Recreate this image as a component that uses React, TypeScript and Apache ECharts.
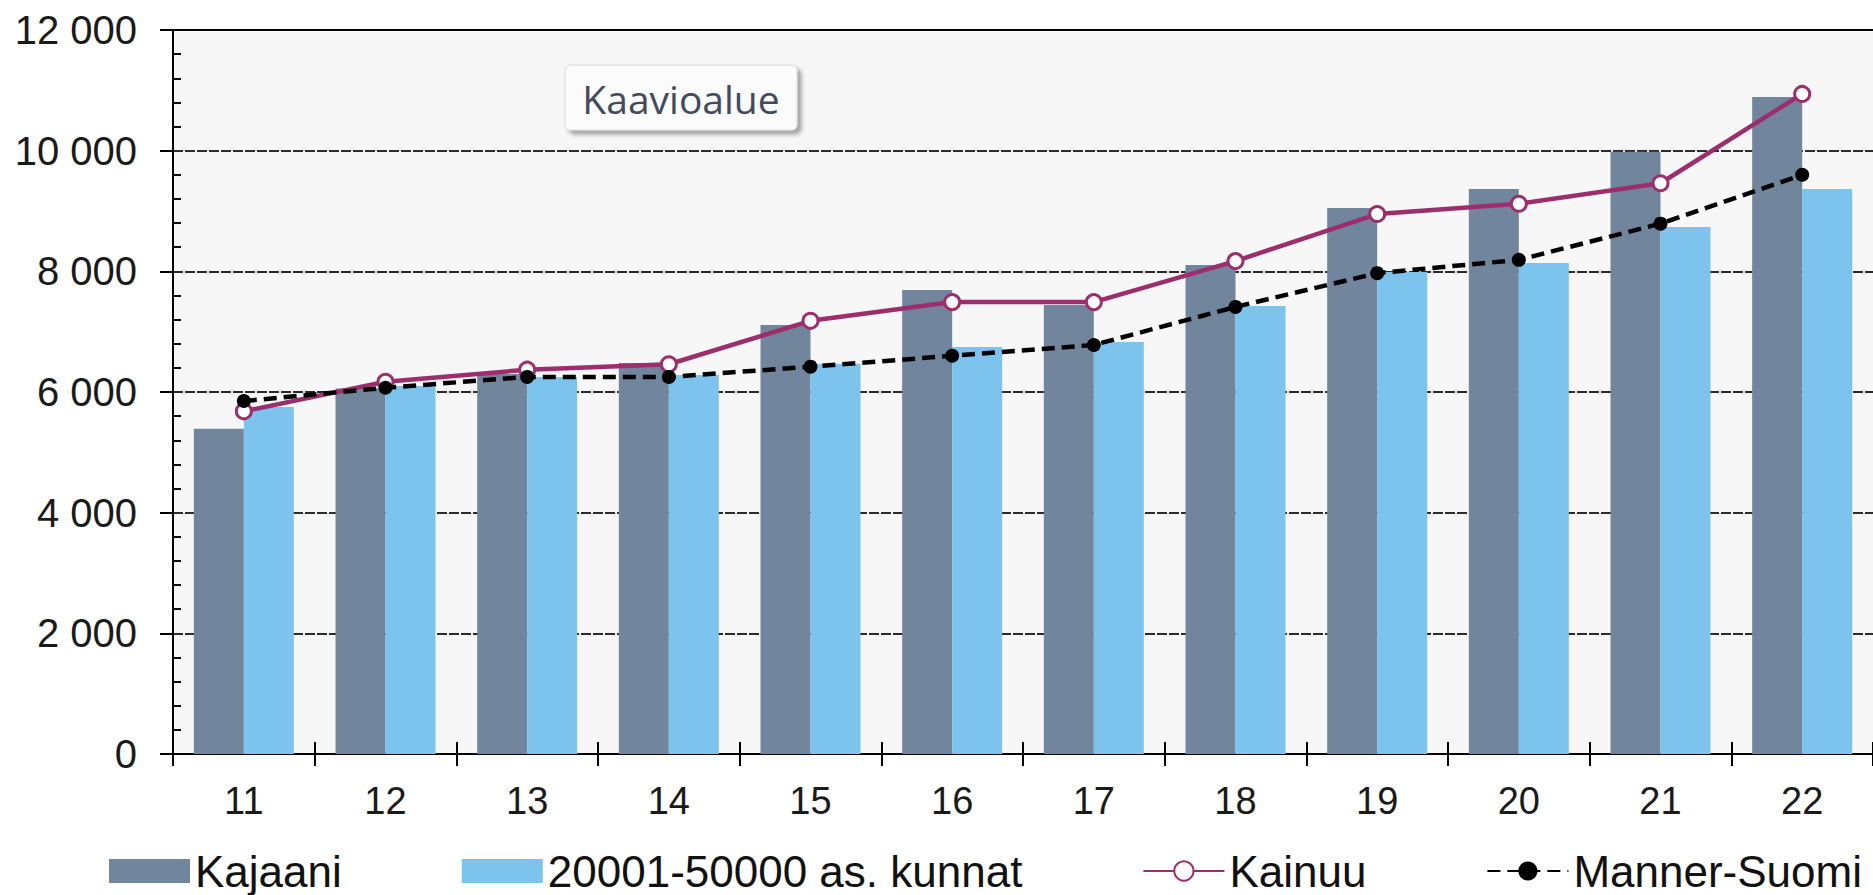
import React, { useEffect, useRef } from 'react';
import * as echarts from 'echarts';

const categories = ['11', '12', '13', '14', '15', '16', '17', '18', '19', '20', '21', '22'];
const kajaani = [5390, 6060, 6300, 6480, 7110, 7690, 7440, 8105, 9050, 9365, 9980, 10890];
const kunnat = [5750, 6100, 6250, 6280, 6470, 6746, 6830, 7425, 7990, 8138, 8735, 9365];
const kainuu = [5680, 6170, 6370, 6460, 7180, 7490, 7490, 8170, 8950, 9120, 9460, 10940];
const mannerSuomi = [5850, 6070, 6250, 6250, 6420, 6600, 6780, 7410, 7970, 8190, 8790, 9600];
const seriesNames = ['Kajaani', '20001-50000 as. kunnat', 'Kainuu', 'Manner-Suomi'];
const yMin = 0;
const yMax = 12000;
const yInterval = 2000;
const boxLabel = 'Kaavioalue';

const fmt = (v: number) => String(v).replace(/\B(?=(\d{3})+(?!\d))/g, ' ');

export default function App() {
  const ref = useRef<HTMLDivElement>(null);
  useEffect(() => {
    const chart = echarts.init(ref.current!, undefined, { renderer: 'svg' });
    const font = '"Liberation Sans", Arial, sans-serif';
    const purple = '#9c2e6e';
    chart.setOption({
      animation: false,
      backgroundColor: '#ffffff',
      grid: {
        left: 173, top: 30, right: -4, bottom: 141,
        show: true, backgroundColor: '#f7f7f7', borderWidth: 0,
      },
      legend: {
        left: 109, top: 849, padding: 0, itemGap: 120, itemWidth: 81, itemHeight: 24,
        textStyle: { fontSize: 44, color: '#111111', fontFamily: font },
        data: [
          { name: seriesNames[0], icon: 'rect' },
          { name: seriesNames[1], icon: 'rect' },
          seriesNames[2],
          seriesNames[3],
        ],
      },
      xAxis: [
        {
          type: 'category', data: categories, position: 'bottom',
          axisLine: { lineStyle: { color: '#000', width: 2 } },
          axisTick: { show: true, length: 12, lineStyle: { color: '#000', width: 2 } },
          axisLabel: { fontSize: 38, color: '#1a1a1a', margin: 28, fontFamily: font },
          splitLine: { show: false },
        },
        {
          type: 'category', data: categories, position: 'top',
          axisLine: { show: true, onZero: false, lineStyle: { color: '#000', width: 2 } },
          axisTick: { show: false }, axisLabel: { show: false }, splitLine: { show: false },
        },
        {
          type: 'category', data: categories, position: 'bottom',
          axisLine: { show: false },
          axisTick: { show: true, inside: true, length: 12, lineStyle: { color: '#000', width: 2 } },
          axisLabel: { show: false }, splitLine: { show: false },
        },
      ],
      yAxis: [
        {
          type: 'value', min: yMin, max: yMax, interval: yInterval, position: 'left',
          axisLine: { show: true, lineStyle: { color: '#000', width: 2 } },
          axisTick: { show: true, length: 13, lineStyle: { color: '#000', width: 2 } },
          axisLabel: { fontSize: 40, color: '#1a1a1a', margin: 36, fontFamily: font, formatter: fmt },
          splitLine: { show: true, lineStyle: { color: '#2a2a2a', width: 2, type: [10, 2] } },
        },
        {
          type: 'value', min: yMin, max: yMax, interval: yInterval, position: 'left',
          axisLine: { show: false },
          axisTick: { show: false, inside: true },
          axisLabel: { show: false }, splitLine: { show: false },
          minorTick: { show: true, splitNumber: 5, length: 8, lineStyle: { color: '#000', width: 2 } },
        },
      ],
      series: [
        {
          name: seriesNames[0], type: 'bar', data: kajaani, barWidth: 50, barGap: '0%',
          itemStyle: { color: '#71869d' }, z: 2,
        },
        {
          name: seriesNames[1], type: 'bar', data: kunnat, barWidth: 50, barGap: '0%',
          itemStyle: { color: '#7cc4ee' }, z: 2,
        },
        {
          name: seriesNames[2], type: 'line', data: kainuu, symbol: 'circle', symbolSize: 15,
          lineStyle: { color: purple, width: 4.5 },
          itemStyle: { color: '#ffffff', borderColor: purple, borderWidth: 3 }, z: 3,
        },
        {
          name: seriesNames[3], type: 'line', data: mannerSuomi, symbol: 'circle', symbolSize: 14,
          lineStyle: { color: '#000000', width: 4.5, type: [13, 7] },
          itemStyle: { color: '#000000' }, z: 4,
        },
      ],
      graphic: [
        {
          type: 'rect', z: 100,
          shape: { x: 565, y: 65, width: 232, height: 65, r: 5 },
          style: {
            fill: '#fbfbfb', stroke: '#d9d9d9', lineWidth: 1,
            shadowBlur: 4, shadowOffsetX: 4, shadowOffsetY: 4, shadowColor: 'rgba(0,0,0,0.35)',
          },
        },
        {
          type: 'text', z: 101, x: 681, y: 98,
          style: {
            text: boxLabel, fontSize: 39, fontFamily: '"Open Sans", "Noto Sans", sans-serif',
            fill: '#434a5e', align: 'center', verticalAlign: 'middle',
          },
        },
      ],
    });
    return () => chart.dispose();
  }, []);
  return <div ref={ref} style={{ position: 'absolute', left: 0, top: 0, width: 1873, height: 895 }} />;
}
